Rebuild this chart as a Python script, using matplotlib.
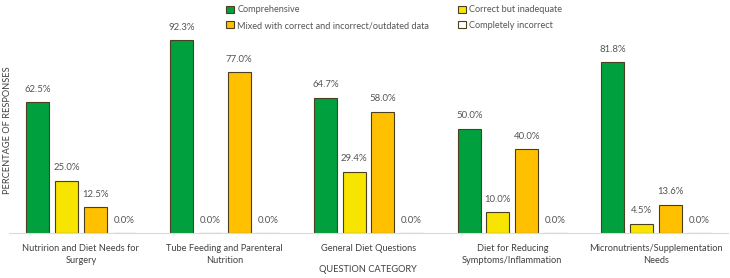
import matplotlib.pyplot as plt
import numpy as np

plt.rcParams["font.family"] = ["Lato", "DejaVu Sans"]

categories = [
    "Nutririon and Diet Needs for\nSurgery",
    "Tube Feeding and Parenteral\nNutrition",
    "General Diet Questions",
    "Diet for Reducing\nSymptoms/Inflammation",
    "Micronutrients/Supplementation\nNeeds",
]
series_names = [
    "Comprehensive",
    "Correct but inadequate",
    "Mixed with correct and incorrect/outdated data",
    "Completely incorrect",
]
comprehensive = [62.5, 92.3, 64.7, 50.0, 81.8]
correct_inadequate = [25.0, 0.0, 29.4, 10.0, 4.5]
mixed = [12.5, 77.0, 58.0, 40.0, 13.6]
incorrect = [0.0, 0.0, 0.0, 0.0, 0.0]

values = [comprehensive, correct_inadequate, mixed, incorrect]
colors = ["#00A03E", "#F7E400", "#FFC000", "#FFFFFF"]
edge = "#4A4020"
text_gray = "#555555"

fig = plt.figure(figsize=(7.3, 2.78), dpi=100)
ax = fig.add_axes([9 / 730, 45 / 278, 719 / 730, 209 / 278])

x = np.arange(len(categories))
pitch = 0.2
width = 0.16
handles = []
for i, (vals, c) in enumerate(zip(values, colors)):
    pos = x + (i - 1.5) * pitch
    bars = ax.bar(pos, vals, width, color=c, edgecolor=edge, linewidth=0.8,
                  label=series_names[i])
    handles.append(bars)
    for p, v in zip(pos, vals):
        ax.text(p, v + 4, f"{v:.1f}%", ha="center", va="bottom",
                fontsize=6.9, color=text_gray)

ax.set_xlim(-0.5, 4.5)
ax.set_ylim(0, 100)
ax.set_yticks([])
ax.set_xticks(x)
ax.set_xticklabels(categories, fontsize=6.7, color="#404040", linespacing=1.45)
ax.tick_params(axis="x", length=0, pad=8)
for s in ["top", "right", "left"]:
    ax.spines[s].set_visible(False)
ax.spines["bottom"].set_color("#D9D9D9")
ax.spines["bottom"].set_linewidth(0.8)

fig.text(368 / 730, 1 - 270 / 278, "QUESTION CATEGORY", ha="center", va="center",
         fontsize=6.7, color="#404040")
fig.text(8 / 730, 1 - 130 / 278, "PERCENTAGE OF RESPONSES", ha="center", va="center",
         rotation=90, fontsize=6.7, color="#404040")

leg_handles = [handles[0], handles[2], handles[1], handles[3]]
leg_labels = [series_names[0], series_names[2], series_names[1], series_names[3]]
fig.legend(leg_handles, leg_labels, ncol=2, loc="upper left",
           bbox_to_anchor=(218 / 730, 1 + 3 / 278), frameon=False,
           fontsize=6.6, labelcolor=text_gray, handlelength=0.8, handleheight=0.8,
           handletextpad=0.4, columnspacing=3.2, labelspacing=0.75)

fig.savefig("out.png", dpi=100)
